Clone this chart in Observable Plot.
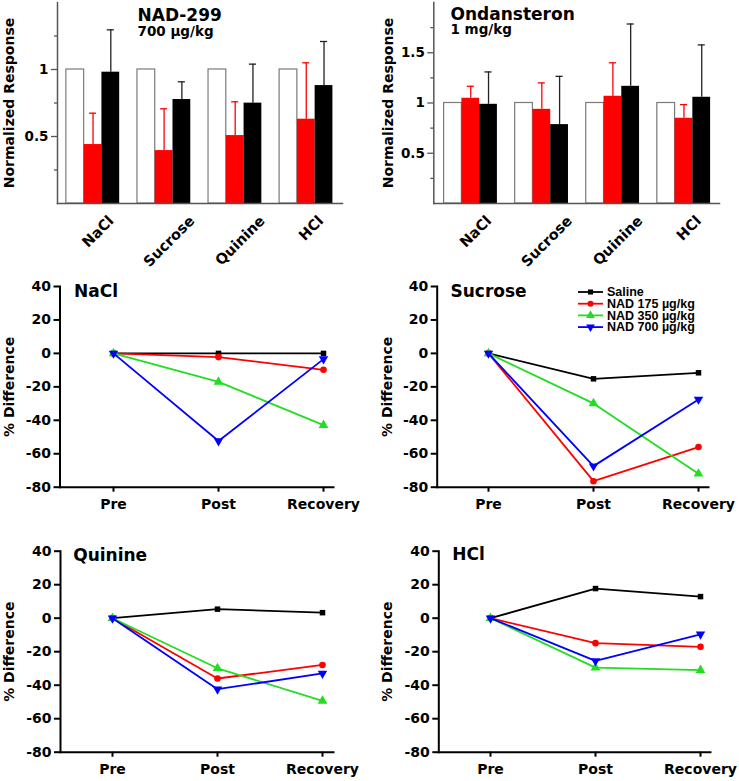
<!DOCTYPE html>
<html><head><meta charset="utf-8">
<script src="https://cdn.jsdelivr.net/npm/d3@7"></script>
<script src="https://cdn.jsdelivr.net/npm/@observablehq/plot@0.6"></script>
<style>
body{margin:0;background:#fff;}
#fig{position:relative;width:739px;height:781px;overflow:hidden;background:#fff;}
.panel{position:absolute;}
</style></head><body><div id="fig"></div>
<script>
// ---------- Data ----------
const barCategories = ["NaCl", "Sucrose", "Quinine", "HCl"];
// NAD-299 700 µg/kg (normalized response): baseline (white), drug (red), recovery (black); *Top = top of error bar
const nadBaseline = [1, 1, 1, 1];
const nadDrug = [0.44, 0.395, 0.507, 0.629];
const nadDrugTop = [0.674, 0.707, 0.759, 1.05];
const nadRecovery = [0.98, 0.776, 0.749, 0.88];
const nadRecoveryTop = [1.296, 0.908, 1.04, 1.209];
// Ondansetron 1 mg/kg
const ondBaseline = [1, 1, 1, 1];
const ondDrug = [1.047, 0.937, 1.067, 0.848];
const ondDrugTop = [1.166, 1.2, 1.4, 0.984];
const ondRecovery = [0.987, 0.785, 1.166, 1.057];
const ondRecoveryTop = [1.309, 1.265, 1.786, 1.578];

const phases = ["Pre", "Post", "Recovery"];
const seriesNames = ["Saline", "NAD 175 µg/kg", "NAD 350 µg/kg", "NAD 700 µg/kg"];
const naclSaline = [0, 0, 0];
const naclNad175 = [0, -2.2, -9.8];
const naclNad350 = [0, -17, -42.9];
const naclNad700 = [0, -52.4, -3.4];
const sucroseSaline = [0, -15.2, -11.6];
const sucroseNad175 = [0, -76.4, -56];
const sucroseNad350 = [0, -29.9, -72];
const sucroseNad700 = [0, -67.4, -27.5];
const quinineSaline = [0, 5.4, 3.3];
const quinineNad175 = [0, -36, -27.9];
const quinineNad350 = [0, -29.9, -49.4];
const quinineNad700 = [0, -42.4, -33];
const hclSaline = [0, 17.7, 12.9];
const hclNad175 = [0, -14.9, -17.1];
const hclNad350 = [0, -29.5, -31];
const hclNad700 = [0, -25.5, -9.6];
const yTicksLine = [40, 20, 0, -20, -40, -60, -80];

// ---------- Styles ----------
const FONT = "'DejaVu Sans', sans-serif";
const seriesColors = ["#000000", "#ff0000", "#22dd22", "#0000ff"];
const triDown = {
  draw(context, size) {
    const y = Math.sqrt(size / (3 * Math.sqrt(3)));
    context.moveTo(0, 2 * y);
    context.lineTo(-Math.sqrt(3) * y, -y);
    context.lineTo(Math.sqrt(3) * y, -y);
    context.closePath();
  }
};
const seriesSymbols = ["square", "circle", "triangle", triDown];
const seriesR = [3.1, 3.3, 3.6, 3.5];

const fig = document.getElementById("fig");
function place(el, left, top) {
  const d = document.createElement("div");
  d.className = "panel";
  d.style.left = left + "px";
  d.style.top = top + "px";
  d.appendChild(el);
  fig.appendChild(d);
}
const measureCtx = document.createElement("canvas").getContext("2d");
function textLen(s, size) {
  measureCtx.font = `bold ${size}px 'DejaVu Sans'`;
  return measureCtx.measureText(s).width;
}

// ---------- Bar panels ----------
function barPanel(cfg) {
  const {left, width, height, marginLeft, marginRight, marginTop, marginBottom, xDomain, yDomain,
    majorTicks, minorTicks, baseline, drug, drugTop, recovery, recoveryTop,
    title, subtitle, titleDx, titleDy, subtitleDy, labelDx} = cfg;
  const barW = 0.25, cap = 0.05, axisCol = "#555";
  const rows = barCategories.map((c, i) => ({i, c, base: baseline[i], drug: drug[i], drugTop: drugTop[i], rec: recovery[i], recTop: recoveryTop[i]}));
  const xs = (i, j) => i - 1.5 * barW + j * barW;
  const labelSize = 14.5;
  const marks = [
    Plot.rectY(rows, {x1: d => xs(d.i, 0), x2: d => xs(d.i, 1), y1: 0, y2: "base", fill: "white", stroke: "#7a7a7a", strokeWidth: 1.2}),
    Plot.rectY(rows, {x1: d => xs(d.i, 1), x2: d => xs(d.i, 2), y1: 0, y2: "drug", fill: "#ff0000"}),
    Plot.rectY(rows, {x1: d => xs(d.i, 2), x2: d => xs(d.i, 3), y1: 0, y2: "rec", fill: "#000000"}),
    Plot.ruleX(rows, {x: d => xs(d.i, 1) + barW / 2, y1: "drug", y2: "drugTop", stroke: "#ff0000", strokeWidth: 1.3}),
    Plot.ruleY(rows, {y: "drugTop", x1: d => xs(d.i, 1) + barW / 2 - cap, x2: d => xs(d.i, 1) + barW / 2 + cap, stroke: "#ff0000", strokeWidth: 1.3}),
    Plot.ruleX(rows, {x: d => xs(d.i, 2) + barW / 2, y1: "rec", y2: "recTop", stroke: "#222", strokeWidth: 1.3}),
    Plot.ruleY(rows, {y: "recTop", x1: d => xs(d.i, 2) + barW / 2 - cap, x2: d => xs(d.i, 2) + barW / 2 + cap, stroke: "#222", strokeWidth: 1.3}),
    Plot.frame({anchor: "left", stroke: axisCol, strokeWidth: 1.5}),
    Plot.frame({anchor: "bottom", stroke: axisCol, strokeWidth: 1.5}),
    Plot.axisY({ticks: majorTicks, tickSize: 6, tickPadding: 3, tickFormat: d => String(d), fontSize: 13.5, label: null, stroke: axisCol, strokeWidth: 1.3}),
    Plot.axisY({ticks: minorTicks, tickSize: 3, tickFormat: () => "", label: null, stroke: axisCol, strokeWidth: 1.3}),
    Plot.text(["Normalized Response"], {frameAnchor: "left", text: d => d, rotate: -90, textAnchor: "middle", lineAnchor: "middle", dx: labelDx, fontSize: 14}),
    Plot.text([title], {frameAnchor: "top-left", text: d => d, textAnchor: "start", lineAnchor: "bottom", dx: titleDx, dy: titleDy, fontSize: 17}),
    Plot.text([subtitle], {frameAnchor: "top-left", text: d => d, textAnchor: "start", lineAnchor: "bottom", dx: titleDx, dy: subtitleDy, fontSize: 13.5})
  ];
  barCategories.forEach((c, i) => {
    marks.push(Plot.text([{i, c}], {x: "i", text: "c", frameAnchor: "bottom", rotate: -45, textAnchor: "middle", lineAnchor: "middle",
      dx: 5, dy: 15 + textLen(c, labelSize) * 0.3535, fontSize: labelSize}));
  });
  const p = Plot.plot({
    width, height, marginLeft, marginRight, marginTop, marginBottom,
    x: {domain: xDomain, axis: null},
    y: {domain: yDomain},
    style: {fontFamily: FONT, fontWeight: "bold", color: "black", background: "white", overflow: "visible"},
    marks
  });
  place(p, left, 0);
}

barPanel({left: 0, width: 370, height: 265, marginLeft: 57, marginRight: 28, marginTop: 2, marginBottom: 62,
  xDomain: [-0.5, 3.51], yDomain: [0, 1.5], majorTicks: [0.5, 1], minorTicks: [0.25, 0.75, 1.25],
  baseline: nadBaseline, drug: nadDrug, drugTop: nadDrugTop, recovery: nadRecovery, recoveryTop: nadRecoveryTop,
  title: "NAD-299", subtitle: "700 µg/kg", titleDx: 80, titleDy: 18, subtitleDy: 33, labelDx: -48});
barPanel({left: 370, width: 369, height: 265, marginLeft: 63.3, marginRight: 20, marginTop: 2, marginBottom: 62,
  xDomain: [-0.52, 3.5], yDomain: [0, 2], majorTicks: [0.5, 1, 1.5], minorTicks: [0.25, 0.75, 1.25, 1.75],
  baseline: ondBaseline, drug: ondDrug, drugTop: ondDrugTop, recovery: ondRecovery, recoveryTop: ondRecoveryTop,
  title: "Ondansteron", subtitle: "1 mg/kg", titleDx: 16.7, titleDy: 17.5, subtitleDy: 31.5, labelDx: -45.3});

// ---------- Line panels ----------
function linePanel(cfg) {
  const {left, top, width, height, marginLeft, marginRight, marginTop, marginBottom, xRange, title, titleDx, titleDy, labelDx, series} = cfg;
  const marks = [
    Plot.frame({anchor: "left", strokeWidth: 2}),
    Plot.frame({anchor: "bottom", strokeWidth: 2}),
    Plot.axisY({ticks: yTicksLine, tickSize: 6, tickPadding: 3, strokeWidth: 2, fontSize: 14, label: null, tickFormat: d => String(d)}),
    Plot.axisX({tickSize: 5, tickPadding: 7, strokeWidth: 2, fontSize: 14, label: null}),
    Plot.text(["% Difference"], {frameAnchor: "left", text: d => d, rotate: -90, textAnchor: "middle", lineAnchor: "middle", dx: labelDx, fontSize: 14}),
    Plot.text([title], {frameAnchor: "top-left", text: d => d, textAnchor: "start", lineAnchor: "bottom", dx: titleDx, dy: titleDy, fontSize: 17})
  ];
  series.forEach((vals, k) => {
    const pts = phases.map((p, t) => ({phase: p, value: vals[t]}));
    marks.push(Plot.line(pts, {x: "phase", y: "value", stroke: seriesColors[k], strokeWidth: 1.8}));
    marks.push(Plot.dot(pts, {x: "phase", y: "value", symbol: seriesSymbols[k], r: seriesR[k], fill: seriesColors[k], stroke: "none"}));
  });
  const p = Plot.plot({
    width, height, marginLeft, marginRight, marginTop, marginBottom,
    x: {type: "point", domain: phases, range: xRange, padding: 0},
    y: {domain: [-80, 40]},
    style: {fontFamily: FONT, fontWeight: "bold", color: "black", background: "white", overflow: "visible"},
    marks
  });
  place(p, left, top);
}

linePanel({left: 0, top: 270, width: 370, height: 260, marginLeft: 59.5, marginRight: 37, marginTop: 16, marginBottom: 43.3,
  xRange: [112, 323], title: "NaCl", titleDx: 14, titleDy: 10, labelDx: -50,
  series: [naclSaline, naclNad175, naclNad350, naclNad700]});
linePanel({left: 370, top: 270, width: 369, height: 260, marginLeft: 66.7, marginRight: 31, marginTop: 16, marginBottom: 43.3,
  xRange: [118.3, 328.3], title: "Sucrose", titleDx: 13.3, titleDy: 10, labelDx: -49.2,
  series: [sucroseSaline, sucroseNad175, sucroseNad350, sucroseNad700]});
linePanel({left: 0, top: 530, width: 370, height: 251, marginLeft: 60, marginRight: 37, marginTop: 20.7, marginBottom: 29.3,
  xRange: [111.7, 322.7], title: "Quinine", titleDx: 12.7, titleDy: 9.3, labelDx: -51,
  series: [quinineSaline, quinineNad175, quinineNad350, quinineNad700]});
linePanel({left: 370, top: 530, width: 369, height: 251, marginLeft: 68.3, marginRight: 29, marginTop: 20.7, marginBottom: 29.3,
  xRange: [120, 330], title: "HCl", titleDx: 13.4, titleDy: 8.6, labelDx: -51.6,
  series: [hclSaline, hclNad175, hclNad350, hclNad700]});

// ---------- Legend ----------
const legend = d3.create("svg").attr("width", 165).attr("height", 52).style("display", "block").style("overflow", "visible");
seriesNames.forEach((name, k) => {
  const g = legend.append("g").attr("transform", `translate(0,${10 + k * 11.7})`);
  g.append("line").attr("x1", 8).attr("x2", 33).attr("y1", 0).attr("y2", 0).attr("stroke", seriesColors[k]).attr("stroke-width", 1.8);
  const sym = typeof seriesSymbols[k] === "string"
    ? {square: d3.symbolSquare, circle: d3.symbolCircle, triangle: d3.symbolTriangle}[seriesSymbols[k]]
    : seriesSymbols[k];
  g.append("path").attr("transform", "translate(20.5,0)").attr("d", d3.symbol(sym, Math.PI * seriesR[k] * seriesR[k] * 0.85)()).attr("fill", seriesColors[k]);
  g.append("text").attr("x", 37).attr("y", 0).attr("dy", "0.35em").attr("font-family", "'Liberation Sans', Arial, sans-serif")
    .attr("font-weight", "bold").attr("font-size", 12.5).text(name);
});
place(legend.node(), 570, 282);
</script>
</body></html>
